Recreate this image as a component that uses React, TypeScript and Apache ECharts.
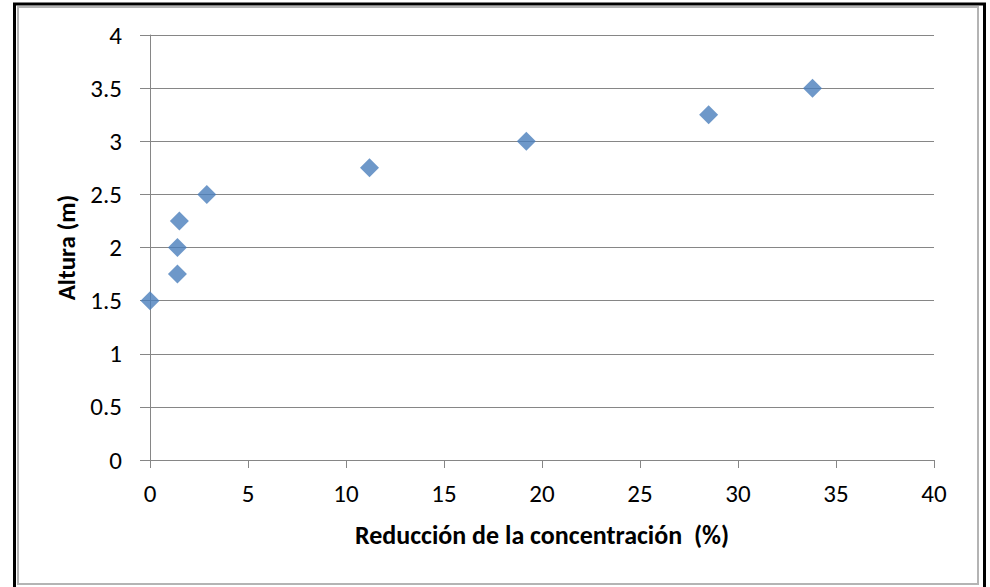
import React, { useEffect, useRef } from "react";
import * as echarts from "echarts";

const reductionPct = [0, 1.4, 1.4, 1.5, 2.9, 11.2, 19.2, 28.5, 33.8];
const heightM = [1.5, 1.75, 2, 2.25, 2.5, 2.75, 3, 3.25, 3.5];
const xTitle = "Reducción de la concentración  (%)";
const yTitle = "Altura (m)";

const FONT = "Carlito, Calibri, Lato, sans-serif";

export default function App() {
  const ref = useRef<HTMLDivElement>(null);
  useEffect(() => {
    document.body.style.margin = "0";
    const chart = echarts.init(ref.current!, null, { renderer: "svg" });
    chart.setOption({
      animation: false,
      backgroundColor: "#ffffff",
      textStyle: { fontFamily: FONT },
      grid: { left: 150, right: 56, top: 35, bottom: 127, containLabel: false },
      xAxis: {
        type: "value",
        min: 0,
        max: 40,
        interval: 5,
        name: xTitle,
        nameLocation: "middle",
        nameGap: 62,
        nameTextStyle: { fontFamily: FONT, fontWeight: "bold", fontSize: 26, color: "#000" },
        axisLine: { show: true, lineStyle: { color: "#868686", width: 1 } },
        axisTick: { show: true, length: 8, lineStyle: { color: "#868686" } },
        axisLabel: { fontFamily: FONT, fontSize: 25, color: "#000", margin: 21 },
        splitLine: { show: false },
      },
      yAxis: {
        type: "value",
        min: 0,
        max: 4,
        interval: 0.5,
        name: yTitle,
        nameLocation: "middle",
        nameRotate: 90,
        nameGap: 65,
        nameTextStyle: { fontFamily: FONT, fontWeight: "bold", fontSize: 25, color: "#000" },
        axisLine: { show: true, lineStyle: { color: "#868686", width: 1 } },
        axisTick: { show: true, length: 10, lineStyle: { color: "#868686" } },
        axisLabel: { fontFamily: FONT, fontSize: 25, color: "#000", margin: 28 },
        splitLine: { show: true, lineStyle: { color: "#868686", width: 1 } },
      },
      graphic: [
        {
          type: "rect",
          shape: { x: 14.5, y: 4, width: 970, height: 590 },
          style: { fill: "none", stroke: "#000", lineWidth: 3 },
          silent: true,
        },
        {
          type: "rect",
          shape: { x: 18, y: 7, width: 960, height: 577 },
          style: { fill: "none", stroke: "#b4b4b4", lineWidth: 2 },
          silent: true,
        },
      ],
      series: [
        {
          type: "scatter",
          symbol: "diamond",
          symbolSize: [19, 19],
          itemStyle: { color: "#4a7ebb" },
          data: reductionPct.map((x, i) => [x, heightM[i]]),
        },
      ],
    });
    return () => chart.dispose();
  }, []);
  return (
    <div
      ref={ref}
      style={{ position: "fixed", left: 0, top: 0, width: 990, height: 587 }}
    />
  );
}
